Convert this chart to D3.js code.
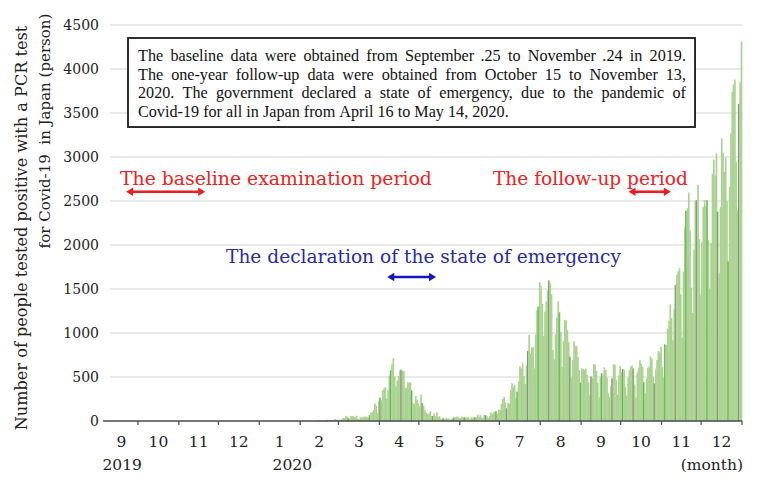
<!DOCTYPE html>
<html><head><meta charset="utf-8">
<script src="https://cdn.jsdelivr.net/npm/d3@7"></script>
<style>html,body{margin:0;padding:0;background:#fff;}svg{display:block;}</style>
</head><body>
<svg id="chart" width="761" height="482"></svg>
<script>
// ---- data: daily number of people tested positive in Japan, 2020 ----
const jan = [0,0,0,0,0,0,0,0,0,0,0,0,0,0,1,0,0,0,0,0,0,0,0,1,1,1,0,2,1,4,2];
const feb = [0,0,0,0,1,0,1,0,0,0,1,0,4,7,8,2,6,5,4,11,12,9,13,10,14,14,23,15,12];
const mar = [14,15,15,35,33,58,47,34,26,58,54,52,45,60,24,15,44,39,42,48,53,43,38,66,93,98,123,200,173,87,225];
const apr = [266,235,351,368,383,251,351,515,576,644,714,507,392,461,510,575,583,572,568,373,380,441,436,440,346,204,190,283,243,198];
const may = [165,302,203,175,123,96,78,84,112,57,56,85,55,99,44,55,26,31,30,25,35,26,31,14,21,34,39,43,49,49,36];
const jun = [35,51,40,43,39,40,47,18,40,38,41,41,44,72,48,72,41,35,70,68,55,35,57,96,77,105,100,111,86,128];
const jul = [124,196,250,274,209,142,207,196,355,430,384,408,260,333,450,623,595,664,510,420,631,795,981,769,840,839,598,982,1264,1301,1580];
const aug = [1536,1331,964,1242,1357,1485,1595,1566,1442,807,700,985,1177,1360,1233,1013,614,906,1150,1140,1031,899,731,495,695,907,852,854,727,578,435];
const sep = [597,594,579,595,525,439,292,506,489,649,641,570,437,268,496,544,524,609,582,493,317,268,395,484,645,641,473,297,517,625];
const oct = [553,590,578,388,290,492,577,617,632,595,415,266,549,606,693,650,618,440,316,485,603,617,731,709,502,426,587,692,795,775,842];
const nov = [613,497,870,860,1046,1139,1323,1168,917,1277,1547,1661,1701,1736,1438,947,1698,2201,2388,2418,2596,2168,1518,1228,1945,2504,2508,2684,2068,1439];
const dec = [2030,2433,2509,2442,2508,2055,1500,2023,2810,2971,2789,3041,2377,1680,2431,3211,3049,2829,2993,2495,1814,2664,3271,3740,3823,3881,2948,2395,3604,3852,4310];
const dailyStart = "2020-01-01";
const axisStart = "2019-09-06";
const axisEnd = "2021-01-01";
const yTicks = [0,500,1000,1500,2000,2500,3000,3500,4000,4500];
const monthLabels = ["9","10","11","12","1","2","3","4","5","6","7","8","9","10","11","12"];
const yearLabels = [{label:"2019", date:"2019-09-19"},{label:"2020", date:"2020-01-26"}];
const yTitle = ["Number of people tested positive with a PCR test","for Covid-19  in Japan (person)"];
const noteLines = [
  "The baseline data were obtained from September .25 to November .24 in 2019.",
  "The one-year follow-up data were obtained from October 15 to November 13,",
  "2020. The government declared a state of emergency, due to the pandemic of",
  "Covid-19 for all in Japan from April 16 to May 14, 2020."
];
const annotations = [
  {text:"The baseline examination period", from:"2019-09-22", to:"2019-11-21", color:"#ee1c1c", textColor:"#f02020", textY:2685, arrowY:2605, textX0:120, textW:312},
  {text:"The follow-up period", from:"2020-10-07", to:"2020-11-08", color:"#ee1c1c", textColor:"#f02020", textY:2685, arrowY:2605, textX0:493, textW:195},
  {text:"The declaration of the state of emergency", from:"2020-04-07", to:"2020-05-14", color:"#1414c0", textColor:"#2a2aa6", textY:1800, arrowY:1636, textX0:226, textW:395}
];

const daily = [...jan,...feb,...mar,...apr,...may,...jun,...jul,...aug,...sep,...oct,...nov,...dec];
const pd = s => new Date(s + "T00:00:00Z");
const day0 = pd(dailyStart);
const rows = daily.map((v,i) => ({date: d3.utcDay.offset(day0, i), value: v, i}));

const svg = d3.select("#chart");
const x = d3.scaleUtc().domain([pd(axisStart), pd(axisEnd)]).range([105, 742]);
const y = d3.scaleLinear().domain([0, 4500]).range([421, 25]);
const serifC = "'DejaVu Serif', serif";
const serifT = "'Liberation Serif', 'Times New Roman', serif";

function fitWidth(sel, target) {
  const w = sel.node().getComputedTextLength();
  const fs = parseFloat(sel.attr("font-size"));
  sel.attr("font-size", fs * target / w);
}

// gridlines
svg.append("g").selectAll("line").data(yTicks.filter(d => d > 0)).join("line")
  .attr("x1", 110).attr("x2", 742).attr("y1", d => y(d)).attr("y2", d => y(d))
  .attr("stroke", "#e2e2e2").attr("stroke-width", 1.5);

// bars
const gb = svg.append("g");
gb.selectAll("rect").data(rows).join("rect")
  .attr("x", d => x(d.date))
  .attr("width", d => x(d3.utcDay.offset(d.date, 1)) - x(d.date) + 0.35)
  .attr("y", d => y(d.value))
  .attr("height", d => y(0) - y(d.value))
  .attr("fill", "#abd292");
gb.selectAll("line").data(rows.filter(d => d.value > 0 && d.i % 8 === 3)).join("line")
  .attr("x1", d => x(d.date) + 0.5).attr("x2", d => x(d.date) + 0.5)
  .attr("y1", d => y(d.value)).attr("y2", y(0))
  .attr("stroke", d => (d.i % 16 === 3) ? "#55b848" : "#7d9471").attr("stroke-width", 1);

// x axis
svg.append("line").attr("x1", 103).attr("x2", 742).attr("y1", y(0)).attr("y2", y(0))
  .attr("stroke", "#4a4a4a").attr("stroke-width", 1.5);
const monthStarts = d3.utcMonth.range(pd("2019-10-01"), d3.utcDay.offset(pd(axisEnd), 1));
svg.append("g").selectAll("line").data(monthStarts).join("line")
  .attr("x1", d => x(d)).attr("x2", d => x(d)).attr("y1", y(0)).attr("y2", y(0) + 4)
  .attr("stroke", "#4a4a4a").attr("stroke-width", 1.2);
const monthMids = d3.utcMonth.range(pd("2019-09-01"), pd("2021-01-01")).map((m, i) => {
  const a = Math.max(x(m), x.range()[0]);
  const b = x(d3.utcMonth.offset(m, 1));
  return {label: monthLabels[i], x: (a + b) / 2};
});
svg.append("g").selectAll("text").data(monthMids).join("text")
  .attr("x", d => d.x).attr("y", 447).attr("text-anchor", "middle")
  .attr("font-family", serifC).attr("font-size", 15.5).attr("fill", "#222").text(d => d.label);
svg.append("g").selectAll("text").data(yearLabels).join("text")
  .attr("x", d => x(pd(d.date))).attr("y", 470).attr("text-anchor", "middle")
  .attr("font-family", serifC).attr("font-size", 15.5).attr("fill", "#222").text(d => d.label);
svg.append("text").attr("x", 743).attr("y", 470).attr("text-anchor", "end")
  .attr("font-family", serifC).attr("font-size", 15.5).attr("fill", "#222").text("(month)");

// y tick labels
svg.append("g").selectAll("text").data(yTicks).join("text")
  .attr("x", 99).attr("y", d => y(d)).attr("dy", "0.36em").attr("text-anchor", "end")
  .attr("font-family", serifC).attr("font-size", 14).attr("fill", "#222").text(d => d);

// y title
const yt = [{t: yTitle[0], bx: 27, cy: 228, len: 405}, {t: yTitle[1], bx: 50, cy: 131, len: 235}];
yt.forEach(o => {
  const t = svg.append("text").attr("transform", `translate(${o.bx},${o.cy}) rotate(-90)`)
    .attr("text-anchor", "middle").attr("font-family", serifC).attr("font-size", 16)
    .attr("fill", "#222").attr("xml:space", "preserve").text(o.t);
  fitWidth(t, o.len);
});

// note box
svg.append("rect").attr("x", 129).attr("y", 39).attr("width", 567).attr("height", 89).attr("fill", "#bbb");
svg.append("rect").attr("x", 128).attr("y", 38).attr("width", 567).attr("height", 89)
  .attr("fill", "#fff").attr("stroke", "#1a1a1a").attr("stroke-width", 1.8);
const probe = svg.append("text").attr("font-family", serifT).attr("font-size", 16).text(noteLines[3]);
fitWidth(probe, 370);
const noteFs = parseFloat(probe.attr("font-size"));
probe.remove();
const lineY = [61, 79.5, 98, 116.5];
noteLines.forEach((line, li) => {
  const words = line.split(" ");
  const t = svg.append("text").attr("y", lineY[li]).attr("font-family", serifT)
    .attr("font-size", noteFs).attr("fill", "#111");
  const spans = words.map(w => t.append("tspan").text(w));
  const widths = spans.map(s => s.node().getComputedTextLength());
  const total = d3.sum(widths);
  const justify = li < 3;
  const spaceW = noteFs * 0.25;
  const gap = justify ? (548 - total) / (words.length - 1) : spaceW;
  let cx = 138;
  spans.forEach((s, k) => { s.attr("x", cx); cx += widths[k] + gap; });
});

// annotations
function arrow(g, x1, x2, yy, color) {
  const h = 7, hw = 4.2;
  g.append("line").attr("x1", x1 + h - 1).attr("x2", x2 - h + 1).attr("y1", yy).attr("y2", yy)
    .attr("stroke", color).attr("stroke-width", 2.6);
  g.append("path").attr("d", `M${x1},${yy} L${x1 + h},${yy - hw} L${x1 + h},${yy + hw} Z`).attr("fill", color);
  g.append("path").attr("d", `M${x2},${yy} L${x2 - h},${yy - hw} L${x2 - h},${yy + hw} Z`).attr("fill", color);
}
annotations.forEach(a => {
  const g = svg.append("g");
  const t = g.append("text").attr("x", a.textX0).attr("y", y(a.textY))
    .attr("font-family", serifC).attr("font-size", 18).attr("fill", a.textColor).text(a.text);
  fitWidth(t, a.textW);
  arrow(g, x(pd(a.from)), x(pd(a.to)), y(a.arrowY), a.color);
});
</script>
</body></html>
